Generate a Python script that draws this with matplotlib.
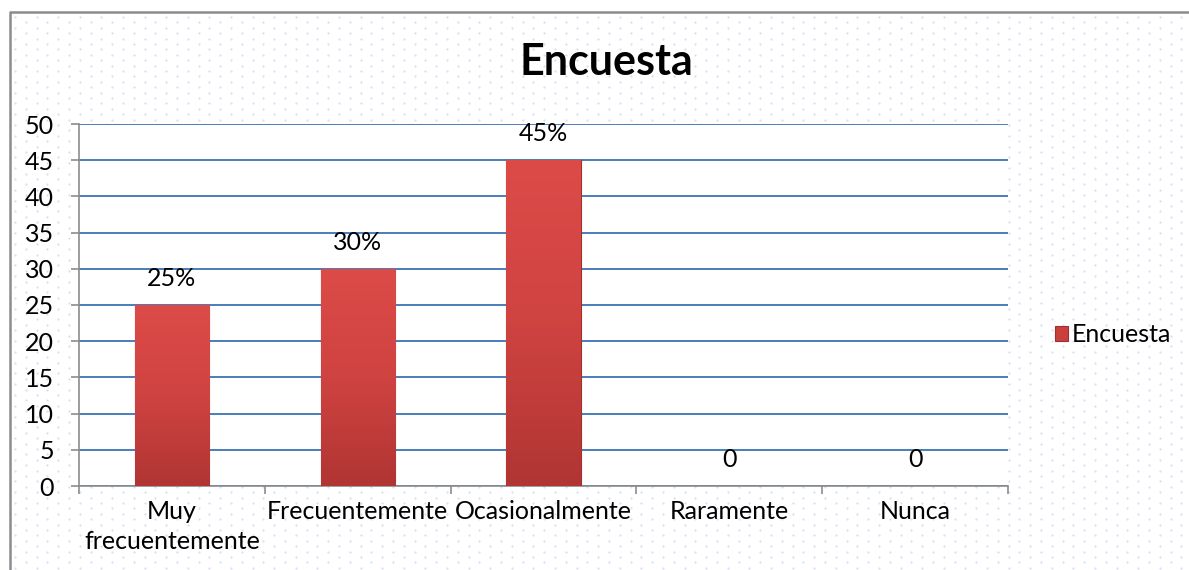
import numpy as np
import matplotlib.pyplot as plt
from matplotlib.lines import Line2D
from matplotlib.colors import LinearSegmentedColormap

# datos de la encuesta
categorias = ['Muy\nfrecuentemente', 'Frecuentemente', 'Ocasionalmente', 'Raramente', 'Nunca']
valores = [25, 30, 45, 0, 0]
etiquetas = ['25%', '30%', '45%', '0', '0']
serie = 'Encuesta'

plt.rcParams['font.family'] = ['Lato', 'DejaVu Sans']

W, H = 1189, 570
fig = plt.figure(figsize=(W / 100, H / 100), dpi=100)
fig.patch.set_facecolor('white')

# fondo punteado del área del gráfico
bg = fig.add_axes([0, 0, 1, 1], zorder=-10)
bg.set_xlim(0, W)
bg.set_ylim(H, 0)
bg.axis('off')
px, py = [], []
for i, y in enumerate(np.arange(17, H, 5.4)):
    off = 0 if i % 2 == 0 else 10.8
    xs = np.arange(15 + off, W, 21.6)
    px.extend(xs)
    py.extend([y] * len(xs))
bg.scatter(px, py, s=2.5, color='#d5e0f0', marker='o', linewidths=0)
# marco
bg.add_line(Line2D([10, 10, W], [H, 12, 12], color='#8c8c8c', lw=1.8))

ax = fig.add_axes([79 / W, 1 - 486 / H, (1008 - 79) / W, (486 - 124) / H])
ax.set_facecolor('white')
x = np.arange(len(categorias))
bars = ax.bar(x, valores, width=0.4, color='#c9403d', edgecolor='#a0302e',
              linewidth=0.8, zorder=3, label=serie)

# degradado en las barras
grad = np.linspace(0, 1, 256).reshape(-1, 1)
cmap = LinearSegmentedColormap.from_list('rojo', ['#dc4b48', '#cf4341', '#b03533'])
for b in bars:
    if b.get_height() <= 0:
        continue
    x0, y0, w, h = b.get_x(), b.get_y(), b.get_width(), b.get_height()
    im = ax.imshow(grad, cmap=cmap, aspect='auto', extent=(x0, x0 + w, y0, y0 + h),
                   origin='upper', zorder=3.5)
    im.set_clip_path(b)

for xi, v, t in zip(x, valores, etiquetas):
    ax.annotate(t, (xi, v), xytext=(0, 11), textcoords='offset points',
                ha='center', va='bottom', fontsize=18, color='black')

ax.set_xlim(-0.5, len(categorias) - 0.5)
ax.set_ylim(0, 50)
ax.set_yticks(np.arange(0, 51, 5))
ax.yaxis.grid(True, color='#4a7ebb', lw=1.4, zorder=1)
ax.set_axisbelow(True)

ax.set_xticks(np.arange(-0.5, len(categorias), 1))
ax.set_xticklabels([])
ax.set_xticks(x, minor=True)
ax.set_xticklabels(categorias, minor=True, fontsize=18, linespacing=1.4)
ax.tick_params(axis='x', which='minor', length=0, pad=10)
ax.tick_params(axis='x', which='major', length=6, color='#8c8c8c', width=1.2)
ax.tick_params(axis='y', length=6, color='#8c8c8c', width=1.2, labelsize=18, pad=12)

for s in ['top', 'right']:
    ax.spines[s].set_visible(False)
for s in ['left', 'bottom']:
    ax.spines[s].set_color('#8c8c8c')
    ax.spines[s].set_linewidth(1.2)

fig.text(606 / W, 1 - 62 / H, 'Encuesta', ha='center', va='center',
         fontsize=31, fontweight='bold')

leg = ax.legend(loc='center left', bbox_to_anchor=(1032 / W, 1 - 335 / H),
                bbox_transform=fig.transFigure, frameon=False, fontsize=18,
                handlelength=0.55, handleheight=0.55, handletextpad=0.15)

fig.savefig('out.png', dpi=100)
